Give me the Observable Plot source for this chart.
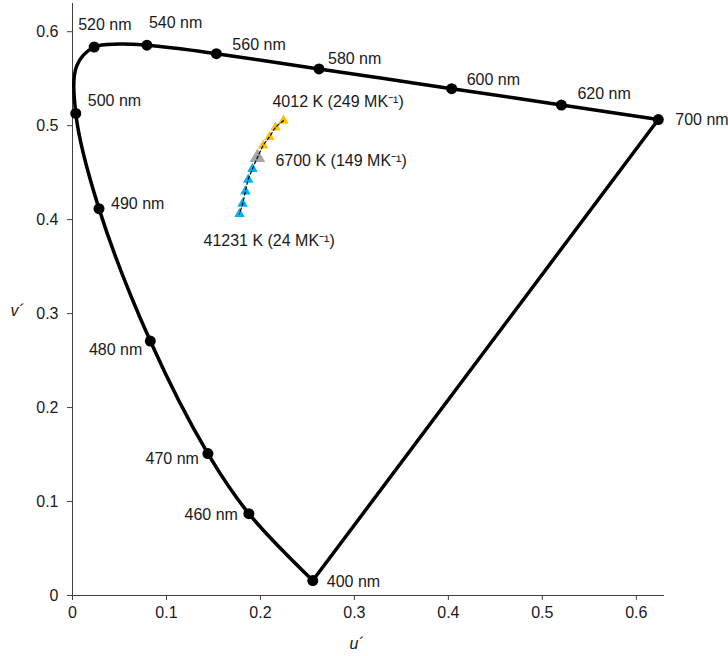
<!DOCTYPE html>
<html>
<head>
<meta charset="utf-8">
<script src="https://cdn.jsdelivr.net/npm/d3@7"></script>
<script src="https://cdn.jsdelivr.net/npm/@observablehq/plot@0.6"></script>
<style>
  html, body { margin: 0; padding: 0; background: #fff; }
  #chart { width: 728px; height: 656px; }
</style>
</head>
<body>
<div id="chart"></div>
<script>
// Spectral locus (CIE 1976 u'v'), wavelength in nm
const wavelengths = [400, 460, 470, 480, 490, 500, 510, 520, 530, 540, 550, 560, 570, 580, 590, 600, 610, 620, 700];
const uPrime = [0.2557, 0.1877, 0.1441, 0.0828, 0.0282, 0.0035, 0.0046, 0.0231, 0.0501, 0.0792, 0.1127, 0.1531, 0.2026, 0.2623, 0.3315, 0.4035, 0.4692, 0.5203, 0.6234];
const vPrime = [0.0159, 0.0871, 0.1510, 0.2708, 0.4117, 0.5130, 0.5638, 0.5837, 0.5868, 0.5856, 0.5821, 0.5766, 0.5694, 0.5604, 0.5501, 0.5393, 0.5296, 0.5219, 0.5065];
// Wavelengths marked with a dot and a label
const markedWavelengths = [400, 460, 470, 480, 490, 500, 520, 540, 560, 580, 600, 620, 700];

// Planckian points (triangles)
const cctMired = [249, 224, 199, 174, 149, 124, 99, 74, 49, 24];
const cctU = [0.2245, 0.2160, 0.2096, 0.2030, 0.1968, 0.1915, 0.1870, 0.1840, 0.1810, 0.1777];
const cctV = [0.5053, 0.4980, 0.4880, 0.4790, 0.4660, 0.4540, 0.4426, 0.4300, 0.4170, 0.4060];
const cctGroup = ["warm", "warm", "warm", "warm", "neutral", "cool", "cool", "cool", "cool", "cool"];
const cctLabels = ["4012 K (249 MK⁻¹)", "", "", "", "6700 K (149 MK⁻¹)", "", "", "", "", "41231 K (24 MK⁻¹)"];

// Axis ticks
const xTicks = [0, 0.1, 0.2, 0.3, 0.4, 0.5, 0.6];
const yTicks = [0, 0.1, 0.2, 0.3, 0.4, 0.5, 0.6];
const xTitle = "u´";
const yTitle = "v´";

// ---- build tables ----
const locus = wavelengths.map((w, i) => ({nm: w, u: uPrime[i], v: vPrime[i]}));
const marked = locus.filter(d => markedWavelengths.includes(d.nm));
const closing = [locus[locus.length - 1], locus[0]];
const cct = cctMired.map((m, i) => ({mired: m, u: cctU[i], v: cctV[i], group: cctGroup[i], label: cctLabels[i]}));
const cctSmall = cct.filter(d => d.group !== "neutral");
const cctNeutral = cct.filter(d => d.group === "neutral");

// label placement (layout only)
const nmPlacement = {
  400: {anchor: "start", dx: 14, dy: 1},
  460: {anchor: "end", dx: -11, dy: 1},
  470: {anchor: "end", dx: -9, dy: 5},
  480: {anchor: "end", dx: -8, dy: 9},
  490: {anchor: "start", dx: 12, dy: -5},
  500: {anchor: "start", dx: 12, dy: -13},
  520: {anchor: "start", dx: -16, dy: -22},
  540: {anchor: "start", dx: 2, dy: -22},
  560: {anchor: "start", dx: 16, dy: -9},
  580: {anchor: "start", dx: 9, dy: -10},
  600: {anchor: "start", dx: 15, dy: -9},
  620: {anchor: "start", dx: 16, dy: -11},
  700: {anchor: "start", dx: 17, dy: 0}
};
const cctPlacement = {
  249: {dx: -11, dy: -19},
  149: {dx: 18, dy: 3},
  24: {dx: -36, dy: 27}
};
const groupColor = {warm: "#FFC000", neutral: "#A6A6A6", cool: "#00B0F0"};

const fmt = d => (d === 0 ? "0" : d3.format(".1f")(d));
const textColor = "#1a1a1a";

const nmLabelMarks = marked.map(d => {
  const p = nmPlacement[d.nm];
  return Plot.text([d], {x: "u", y: "v", text: r => `${r.nm} nm`, textAnchor: p.anchor, dx: p.dx, dy: p.dy, fill: textColor, fontSize: 16});
});
const cctLabelMarks = cct.filter(d => d.label).map(d => {
  const p = cctPlacement[d.mired];
  return Plot.text([d], {x: "u", y: "v", text: "label", textAnchor: "start", dx: p.dx, dy: p.dy, fill: textColor, fontSize: 16});
});

const chart = Plot.plot({
  width: 728,
  height: 656,
  marginLeft: 72,
  marginRight: 64,
  marginTop: 3,
  marginBottom: 61,
  style: {fontFamily: "'Liberation Sans', Arial, sans-serif", fontSize: "16px", color: textColor, background: "#fff", overflow: "visible"},
  x: {domain: [0, 0.63]},
  y: {domain: [0, 0.63]},
  marks: [
    Plot.axisX({ticks: xTicks, tickFormat: fmt, tickSize: 5, tickPadding: 6, label: null, fontSize: 16, stroke: "#404040"}),
    Plot.axisY({ticks: yTicks, tickFormat: fmt, tickSize: 5, tickPadding: 9, label: null, fontSize: 16, stroke: "#404040"}),
    Plot.ruleX([0], {stroke: "#404040", strokeWidth: 1}),
    Plot.ruleY([0], {stroke: "#404040", strokeWidth: 1}),
    Plot.line(locus, {x: "u", y: "v", curve: "catmull-rom", stroke: "#000", strokeWidth: 3.5}),
    Plot.line(closing, {x: "u", y: "v", stroke: "#000", strokeWidth: 3.5}),
    Plot.dot(marked, {x: "u", y: "v", r: 5.5, fill: "#000", stroke: "none"}),
    Plot.dot(cctSmall, {x: "u", y: "v", symbol: "triangle", r: 3.9, fill: d => groupColor[d.group], stroke: "none"}),
    Plot.dot(cctNeutral, {x: "u", y: "v", symbol: "triangle", r: 5.8, fill: d => groupColor[d.group], stroke: "none"}),
    Plot.line(cct, {x: "u", y: "v", curve: "catmull-rom", stroke: "#000", strokeWidth: 1.2, strokeDasharray: "3,2.5"}),
    ...nmLabelMarks,
    ...cctLabelMarks,
    Plot.text([xTitle], {frameAnchor: "bottom", dx: -12, dy: 53, text: d => d, fontStyle: "italic", fontSize: 16, fill: textColor}),
    Plot.text([yTitle], {frameAnchor: "left", dx: -62, dy: 11, text: d => d, fontStyle: "italic", fontSize: 16, fill: textColor})
  ]
});
document.getElementById("chart").appendChild(chart);
</script>
</body>
</html>
